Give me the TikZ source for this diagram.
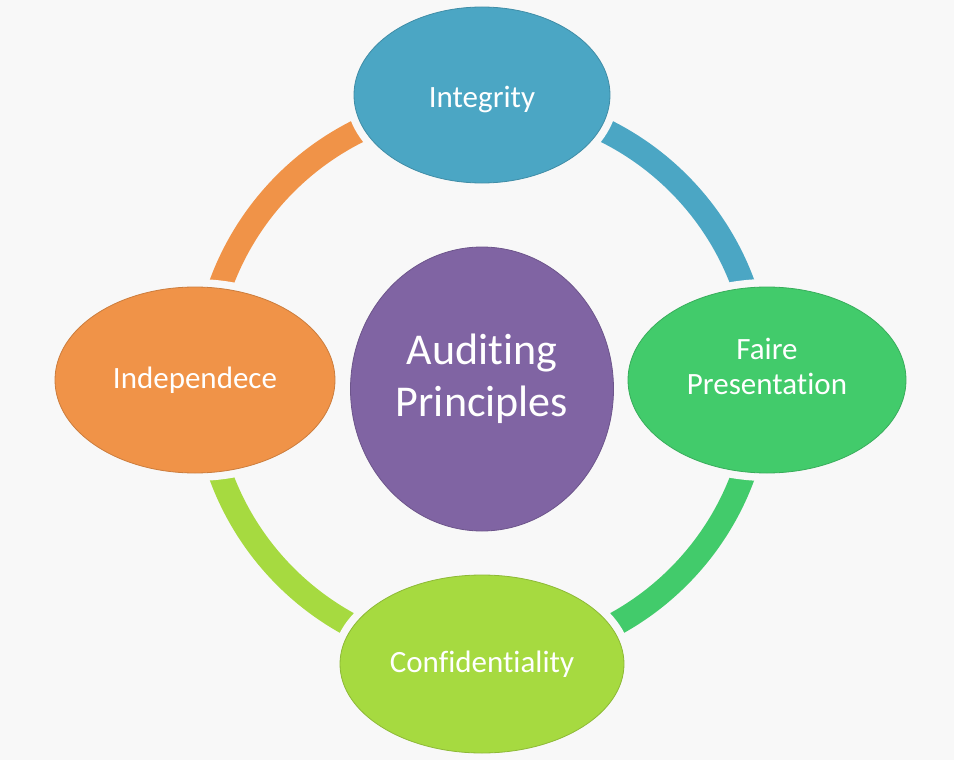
\documentclass[tikz,border=0pt]{standalone}
\usepackage{fontspec}
\setmainfont[Ligatures=NoCommon]{Carlito}
\usetikzlibrary{shapes.geometric}
\definecolor{bgc}{HTML}{F8F8F8}
\definecolor{cblue}{HTML}{4BA6C4}
\definecolor{corange}{HTML}{F09348}
\definecolor{cpurple}{HTML}{8064A3}
\definecolor{cgreen}{HTML}{42CB6B}
\definecolor{clime}{HTML}{A6DA40}
\tikzset{
  bubble/.style={ellipse, inner sep=0pt, text=white, align=center,
    font=\fontsize{31}{35}\selectfont,
    preaction={draw=bgc, line width=16pt},
    line width=0.8pt},
  ringarc/.style={line width=24pt},
}
\begin{document}
\begin{tikzpicture}[x=1pt,y=-1pt]
\fill[bgc] (0,0) rectangle (954,760);
\useasboundingbox (0,0) rectangle (954,760);
\coordinate (c) at (482,380);
% ring arcs
\draw[ringarc, cblue]   (c) ++(270:278) arc[start angle=270, end angle=360, radius=278];
\draw[ringarc, cgreen]  (c) ++(0:278)   arc[start angle=0,   end angle=90,  radius=278];
\draw[ringarc, clime]   (c) ++(90:278)  arc[start angle=90,  end angle=180, radius=278];
\draw[ringarc, corange] (c) ++(180:278) arc[start angle=180, end angle=270, radius=278];
% nodes
\node[bubble, fill=cblue, draw=cblue!85!black, minimum width=256pt, minimum height=176pt, text height=30pt] (integ) at (482,95) {Integrity};
\node[bubble, fill=cgreen, draw=cgreen!85!black, minimum width=278pt, minimum height=186pt, text depth=28pt] (faire) at (767,380) {Faire\\Presentation};
\node[bubble, fill=clime, draw=clime!85!black, minimum width=284pt, minimum height=178pt] (conf) at (482,664) {Confidentiality};
\node[bubble, fill=corange, draw=corange!85!black, minimum width=280pt, minimum height=186pt] (indep) at (195,380) {Independece};
\node[bubble, fill=cpurple, draw=cpurple!85!black, minimum width=263pt, minimum height=284pt,
  text depth=28pt, font=\fontsize{44}{52}\selectfont] (aud) at (482,389) {Auditing\\Principles};
\end{tikzpicture}
\end{document}
